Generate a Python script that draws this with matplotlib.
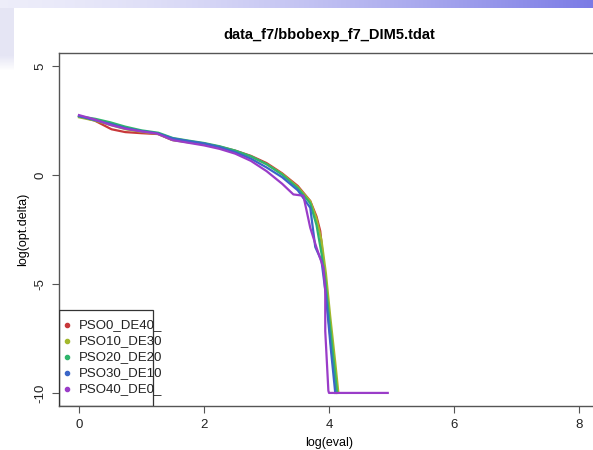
import numpy as np
import matplotlib
matplotlib.use("Agg")
import matplotlib.pyplot as plt
from matplotlib.patches import Rectangle

plt.rcParams['font.family'] = ['Liberation Sans', 'DejaVu Sans']

title = "data_f7/bbobexp_f7_DIM5.tdat"
labels = ["PSO0_DE40_", "PSO10_DE30", "PSO20_DE20", "PSO30_DE10", "PSO40_DE0_"]
colors = ["#C8383A", "#A3B82C", "#2FB56C", "#3A66C8", "#9A3CC8"]

x_red = [0, 0.25, 0.52, 0.74, 1.0, 1.27, 1.48, 1.75, 2.0, 2.25, 2.5, 2.75, 3.0, 3.25, 3.5, 3.7, 3.8, 3.86, 3.91, 3.96, 4.04, 4.12]
y_red = [2.7, 2.5, 2.1, 1.97, 1.92, 1.88, 1.62, 1.52, 1.44, 1.3, 1.12, 0.88, 0.55, 0.08, -0.5, -1.19, -1.9, -2.57, -3.94, -5.63, -8.0, -10.0]

x_yel = [0, 0.25, 0.5, 0.75, 1.0, 1.25, 1.5, 1.75, 2.0, 2.25, 2.5, 2.75, 3.0, 3.25, 3.5, 3.7, 3.8, 3.88, 3.95, 4.02, 4.1, 4.15]
y_yel = [2.65, 2.5, 2.3, 2.1, 1.98, 1.9, 1.6, 1.5, 1.42, 1.28, 1.1, 0.85, 0.5, 0.05, -0.55, -1.2, -2.0, -3.0, -4.5, -6.5, -8.6, -10.0]

x_grn = [0, 0.26, 0.5, 0.74, 1.0, 1.27, 1.5, 1.75, 2.0, 2.25, 2.5, 2.75, 3.0, 3.25, 3.5, 3.7, 3.8, 3.88, 3.94, 4.0, 4.07, 4.13]
y_grn = [2.7, 2.58, 2.42, 2.22, 2.05, 1.94, 1.7, 1.58, 1.47, 1.32, 1.12, 0.86, 0.5, 0.02, -0.6, -1.3, -2.3, -3.6, -4.8, -6.5, -8.4, -10.0]

x_blu = [0, 0.25, 0.5, 0.75, 1.0, 1.25, 1.5, 1.75, 2.0, 2.25, 2.5, 2.75, 3.0, 3.25, 3.5, 3.7, 3.74, 3.78, 3.88, 3.95, 4.03, 4.1]
y_blu = [2.7, 2.52, 2.35, 2.15, 2.02, 1.92, 1.68, 1.56, 1.45, 1.28, 1.05, 0.75, 0.35, -0.1, -0.7, -1.5, -2.4, -3.3, -3.94, -5.5, -8.0, -10.0]

x_pur = [0, 0.25, 0.5, 0.75, 1.0, 1.25, 1.5, 1.75, 2.0, 2.25, 2.5, 2.75, 3.0, 3.25, 3.43, 3.59, 3.7, 3.8, 3.91, 3.94, 3.94, 3.99, 4.0, 4.94]
y_pur = [2.75, 2.55, 2.3, 2.12, 2.0, 1.9, 1.6, 1.48, 1.36, 1.2, 0.98, 0.65, 0.18, -0.4, -0.89, -0.95, -2.42, -3.33, -4.25, -5.32, -7.16, -9.9, -10.0, -10.0]

series_x = [x_red, x_yel, x_grn, x_blu, x_pur]
series_y = [y_red, y_yel, y_grn, y_blu, y_pur]

W, H = 593, 450
fig = plt.figure(figsize=(W / 100, H / 100), dpi=100)

# slide-like background gradient
img = np.ones((H, W, 3))
t = np.linspace(0, 1, W) ** 1.5
top = np.stack([0.93 - 0.45 * t, 0.93 - 0.45 * t, 0.98 - 0.08 * t], axis=1)
img[0:8, :, :] = top[None, :, :]
left_col = np.array([0.90, 0.90, 0.96])
for r in range(8, 70):
    f = 1.0 if r < 55 else max(0.0, 1 - (r - 55) / 15)
    img[r, 0:14, :] = left_col * f + (1 - f) * 1.0
fig.figimage(img, xo=0, yo=0, origin='upper', zorder=0)

ax = fig.add_axes([59 / W, 1 - 406 / H, 540 / W, 353 / H])
ax.set_zorder(1)
ax.set_xlim(-0.32, 8.32)
ax.set_ylim(-10.6, 5.6)

for xs, ys, c in zip(series_x, series_y, colors):
    ax.plot(xs, ys, color=c, lw=1.6, solid_joinstyle='round')

ax.set_xticks([0, 2, 4, 6, 8])
ax.set_yticks([-10, -5, 0, 5])
ax.set_yticklabels(["-10", "-5", "0", "5"], rotation=90, va='center')
ax.tick_params(length=5, width=0.8, color='#555555', labelsize=9.5, pad=4, labelcolor='#222222')
for s in ax.spines.values():
    s.set_color('#555555')
    s.set_linewidth(1.0)

ax.set_title(title, fontsize=10.5, fontweight='bold', pad=10)
ax.set_xlabel("log(eval)", fontsize=9, labelpad=5)
ax.set_ylabel("log(opt.delta)", fontsize=9, labelpad=4)

# legend box (bottom-left, R style)
ax.add_patch(Rectangle((-0.32, -10.6), 1.5, 4.41, fill=False, edgecolor='#333333', lw=0.9, zorder=5))
row_y = [-6.9, -7.63, -8.37, -9.1, -9.83]
for lab, c, yy in zip(labels, colors, row_y):
    ax.plot([-0.2], [yy], 'o', color=c, ms=3, zorder=6)
    ax.text(0.0, yy, lab, fontsize=9.5, va='center', ha='left', color='#222222', zorder=6)

fig.savefig("out.png", dpi=100)
